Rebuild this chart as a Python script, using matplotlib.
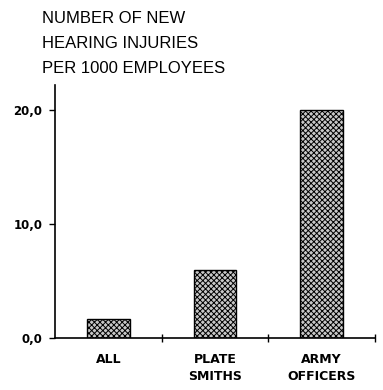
import matplotlib
matplotlib.use("Agg")
import matplotlib.pyplot as plt

# data
categories = ["ALL", "PLATE\nSMITHS", "ARMY\nOFFICERS"]
injuries = [1.7, 6.0, 20.0]
yticks = [0, 10, 20]
ytick_labels = ["0,0", "10,0", "20,0"]
title_lines = ["NUMBER OF NEW", "HEARING INJURIES", "PER 1000 EMPLOYEES"]

plt.rcParams["hatch.linewidth"] = 0.7

fig = plt.figure(figsize=(3.83, 3.90), dpi=100)
ax = fig.add_axes([0.1436, 0.1333, 0.8354, 0.6487])

x = range(len(categories))
ax.bar(x, injuries, width=0.4, color="#c8c8c8", edgecolor="black",
       linewidth=1.0, hatch="xxxxxx")

ax.set_xlim(-0.5, len(categories) - 0.5)
ax.set_ylim(0, 22.2)

ax.spines["top"].set_visible(False)
ax.spines["right"].set_visible(False)
ax.spines["left"].set_linewidth(1.2)
ax.spines["bottom"].set_linewidth(1.2)

ax.set_yticks(yticks)
ax.set_yticklabels(ytick_labels, fontsize=8.5, fontweight="bold",
                   family="DejaVu Sans")
ax.tick_params(axis="y", direction="out", length=4, width=1, pad=5)

# category boundaries get the x ticks, labels go under the bars
ax.set_xticks([i + 0.5 for i in x])
ax.set_xticklabels([])
ax.tick_params(axis="x", direction="inout", length=6, width=1)
for i, lab in zip(x, categories):
    ax.text(i, -1.3, lab, ha="center", va="top", fontsize=9,
            fontweight="bold", family="DejaVu Sans", linespacing=1.4,
            transform=ax.transData)

for k, line in enumerate(title_lines):
    fig.text(0.11, 0.952 - k * 0.064, line, ha="left", va="center",
             fontsize=12, family="Liberation Sans")

fig.savefig("out.png", dpi=100)
